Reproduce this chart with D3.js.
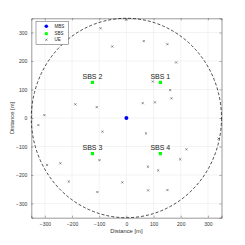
<!DOCTYPE html>
<html><head><meta charset="utf-8">
<script src="https://cdn.jsdelivr.net/npm/d3@7"></script>
<style>body{margin:0;background:#fff}</style>
</head><body>
<svg id="c" width="245" height="245"></svg>
<script>
const ueX = [-1,-95,-52,64,151,183,97,161,166,105,60,-188,-109,-302,-324,-88,72,339,221,198,-99,-243,-292,79,117,-212,-15,-107,80,151];
const ueY = [345,315,251,270,259,195,128,98,69,55,52,48,38,10,-25,-48,-54,-72,-110,-145,-148,-159,-165,-171,-184,-223,-226,-260,-254,-253];
const sbsNames = ["SBS 1","SBS 2","SBS 3","SBS 4"];
const sbsX = [125,-125,-125,125];
const sbsY = [125,125,-125,-125];
const mbsX = [0], mbsY = [0];
const cellRadius = [350];
const ticks = [-300,-200,-100,0,100,200,300];
const legendLabels = ["MBS","SBS","UE"];

const svg = d3.select("#c");
const L=31.3, R=221.5, T=18.3, B=217.7;
const x = d3.scaleLinear().domain([-350,350]).range([L,R]);
const y = d3.scaleLinear().domain([-350,350]).range([B,T]);
const font = "Liberation Sans, Arial, sans-serif";

// grid
const g = svg.append("g");
g.selectAll(".gx").data(ticks).enter().append("line")
 .attr("x1",d=>x(d)).attr("x2",d=>x(d)).attr("y1",T).attr("y2",B)
 .attr("stroke","#e6e6e6").attr("stroke-width",0.5);
g.selectAll(".gy").data(ticks).enter().append("line")
 .attr("y1",d=>y(d)).attr("y2",d=>y(d)).attr("x1",L).attr("x2",R)
 .attr("stroke","#e6e6e6").attr("stroke-width",0.5);

// axes
const ax = d3.axisBottom(x).tickValues(ticks).tickSize(-2).tickPadding(5);
const ay = d3.axisLeft(y).tickValues(ticks).tickSize(-2).tickPadding(4);
const axB = svg.append("g").attr("transform",`translate(0,${B})`).call(ax);
const axL = svg.append("g").attr("transform",`translate(${L},0)`).call(ay);
const axT = svg.append("g").attr("transform",`translate(0,${T})`).call(d3.axisTop(x).tickValues(ticks).tickSize(-2).tickFormat(""));
const axR = svg.append("g").attr("transform",`translate(${R},0)`).call(d3.axisRight(y).tickValues(ticks).tickSize(-2).tickFormat(""));
[axB,axL,axT,axR].forEach(a=>{
  a.select(".domain").attr("stroke","#555").attr("stroke-width",0.6);
  a.selectAll(".tick line").attr("stroke","#555").attr("stroke-width",0.5);
  a.selectAll("text").attr("font-family",font).attr("font-size",5).attr("fill","#333");
});

svg.append("text").attr("x",(L+R)/2).attr("y",233).attr("text-anchor","middle")
 .attr("font-family",font).attr("font-size",5.8).attr("fill","#333").text("Distance [m]");
svg.append("text").attr("transform",`translate(14,${(T+B)/2}) rotate(-90)`).attr("text-anchor","middle")
 .attr("font-family",font).attr("font-size",5.8).attr("fill","#333").text("Distance [m]");

// circle
svg.append("circle").attr("cx",x(0)).attr("cy",y(0))
 .attr("rx",0).attr("r",x(cellRadius[0])-x(0))
 .attr("fill","none").attr("stroke","#000").attr("stroke-width",0.7).attr("stroke-dasharray","3,2");
// ellipse to match unequal scales
svg.select("circle").remove();
svg.append("ellipse").attr("cx",x(0)).attr("cy",y(0))
 .attr("rx",x(cellRadius[0])-x(0)).attr("ry",y(0)-y(cellRadius[0]))
 .attr("fill","none").attr("stroke","#000").attr("stroke-width",0.7).attr("stroke-dasharray","3,2");

// UE
const s=1.1;
const ue = svg.append("g").selectAll("path").data(ueX.map((d,i)=>[d,ueY[i]])).enter().append("path")
 .attr("d",d=>`M${x(d[0])-s},${y(d[1])-s}L${x(d[0])+s},${y(d[1])+s}M${x(d[0])-s},${y(d[1])+s}L${x(d[0])+s},${y(d[1])-s}`)
 .attr("stroke","#333").attr("stroke-width",0.5);

// SBS
svg.append("g").selectAll("rect").data(sbsX.map((d,i)=>[d,sbsY[i]])).enter().append("rect")
 .attr("x",d=>x(d[0])-1.6).attr("y",d=>y(d[1])-1.6).attr("width",3.2).attr("height",3.2).attr("fill","#00ff00");
svg.append("g").selectAll("text").data(sbsX.map((d,i)=>[d,sbsY[i],sbsNames[i]])).enter().append("text")
 .attr("x",d=>x(d[0])).attr("y",d=>y(d[1])-3.5).attr("text-anchor","middle")
 .attr("font-family",font).attr("font-size",7).attr("fill","#222").text(d=>d[2]);

// MBS
svg.append("circle").attr("cx",x(mbsX[0])).attr("cy",y(mbsY[0])).attr("r",2).attr("fill","#0000ff");

// legend
const lg = svg.append("g");
lg.append("rect").attr("x",36).attr("y",21.7).attr("width",32.3).attr("height",22.6)
 .attr("fill","#fff").attr("stroke","#555").attr("stroke-width",0.5);
const ly = [26.3,33.7,39.7];
lg.append("circle").attr("cx",46.3).attr("cy",ly[0]).attr("r",1.8).attr("fill","#0000ff");
lg.append("rect").attr("x",46.3-1.5).attr("y",ly[1]-1.5).attr("width",3).attr("height",3).attr("fill","#00ff00");
lg.append("path").attr("d",`M${46.3-s},${ly[2]-s}L${46.3+s},${ly[2]+s}M${46.3-s},${ly[2]+s}L${46.3+s},${ly[2]-s}`)
 .attr("stroke","#333").attr("stroke-width",0.5);
lg.selectAll("text").data(legendLabels).enter().append("text")
 .attr("x",54.5).attr("y",(d,i)=>ly[i]+1.6).attr("font-family",font).attr("font-size",4.5).attr("fill","#222").text(d=>d);
</script>
</body></html>
